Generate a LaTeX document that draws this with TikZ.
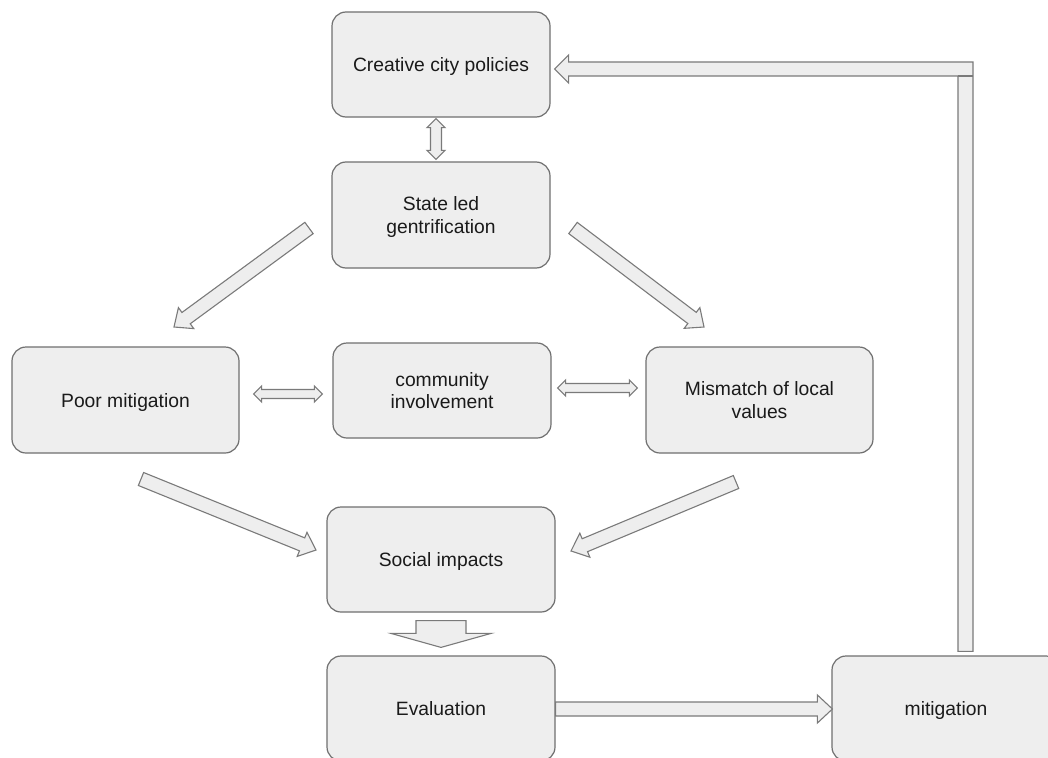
\documentclass[tikz,border=0pt]{standalone}
\usepackage{fontspec}
\setmainfont{Liberation Sans}
\usetikzlibrary{calc}
\definecolor{boxfill}{HTML}{EEEEEE}
\definecolor{boxline}{HTML}{707070}
\definecolor{arrline}{HTML}{7A7A7A}
\definecolor{txt}{HTML}{1A1A1A}
\tikzset{
  box/.style={draw=boxline, fill=boxfill, rounded corners=14pt, line width=1.2pt,
    minimum width=218pt, minimum height=105pt, align=center, text=txt,
    font=\fontsize{19.3}{22.7}\selectfont, inner sep=0pt,
    text height=14pt, text depth=0pt},
  twoline/.style={text height=36.7pt, text depth=0pt},
  blockarr/.style={draw=arrline, fill=boxfill, line width=1.1pt, line join=miter}
}
\newcommand\myarrow[5]{%
\draw[blockarr] let \p1=(#1), \p2=(#2), \n1={atan2(\y2-\y1,\x2-\x1)}, \n2={veclen(\x2-\x1,\y2-\y1)} in
 ($(\p1)+(\n1+90:#3)$) -- ($(\p1)+(\n1:\n2-#5)+(\n1+90:#3)$) -- ($(\p1)+(\n1:\n2-#5)+(\n1+90:#4)$)
 -- (\p2) -- ($(\p1)+(\n1:\n2-#5)+(\n1-90:#4)$) -- ($(\p1)+(\n1:\n2-#5)+(\n1-90:#3)$)
 -- ($(\p1)+(\n1-90:#3)$) -- cycle;}
\newcommand\mydarrow[5]{%
\draw[blockarr] let \p1=(#1), \p2=(#2), \n1={atan2(\y2-\y1,\x2-\x1)}, \n2={veclen(\x2-\x1,\y2-\y1)} in
 (\p1) -- ($(\p1)+(\n1:#5)+(\n1+90:#4)$) -- ($(\p1)+(\n1:#5)+(\n1+90:#3)$)
 -- ($(\p1)+(\n1:\n2-#5)+(\n1+90:#3)$) -- ($(\p1)+(\n1:\n2-#5)+(\n1+90:#4)$)
 -- (\p2) -- ($(\p1)+(\n1:\n2-#5)+(\n1-90:#4)$) -- ($(\p1)+(\n1:\n2-#5)+(\n1-90:#3)$)
 -- ($(\p1)+(\n1:#5)+(\n1-90:#3)$) -- ($(\p1)+(\n1:#5)+(\n1-90:#4)$) -- cycle;}
\begin{document}
\begin{tikzpicture}[x=1pt,y=-1pt]
\useasboundingbox[fill=white] (0,0) rectangle (1048,757);
% boxes
\node[box] (creative) at (441,64.5) {Creative city policies};
\node[box, twoline, minimum height=106pt] (state) at (441,215) {State led\\gentrification};
\node[box, minimum width=227pt, minimum height=106pt] (poor) at (125.5,400) {Poor mitigation};
\node[box, twoline, minimum height=95pt] (comm) at (442,390.5) {community\\involvement};
\node[box, twoline, minimum width=227pt, minimum height=106pt] (mis) at (759.5,400) {Mismatch of local\\values};
\node[box, minimum width=228pt] (social) at (441,559.5) {Social impacts};
\node[box, minimum width=228pt] (eval) at (441,708.5) {Evaluation};
\node[box, minimum width=228pt] (mitig) at (946,708.5) {mitigation};
% connector end points
\coordinate (v1) at ($(creative.south)+(-5,1)$);
\coordinate (v2) at ($(state.north)+(-5,-2)$);
\coordinate (dl1) at (309,228);
\coordinate (dl2) at (174,327);
\coordinate (dr1) at (573,228);
\coordinate (dr2) at (704,327);
\coordinate (h1a) at ($(poor.east)+(14,-6)$);
\coordinate (h1b) at ($(comm.west)+(-10,3.5)$);
\coordinate (h2a) at ($(comm.east)+(6,-2.5)$);
\coordinate (h2b) at ($(mis.west)+(-8,-12)$);
\coordinate (pl1) at (141,479);
\coordinate (pl2) at (316,550);
\coordinate (pr1) at (736,482);
\coordinate (pr2) at (571,551);
\coordinate (sd1) at ($(social.south)+(0,8)$);
\coordinate (sd2) at ($(eval.north)+(0,-8)$);
\coordinate (em1) at ($(eval.east)+(0,0.5)$);
\coordinate (em2) at ($(mitig.west)+(1,0.5)$);
% arrows
\mydarrow{v1}{v2}{5.5pt}{9pt}{9pt}
\myarrow{dl1}{dl2}{7pt}{13pt}{15pt}
\myarrow{dr1}{dr2}{7pt}{13pt}{15pt}
\mydarrow{h1a}{h1b}{4.5pt}{8pt}{8pt}
\mydarrow{h2a}{h2b}{4.5pt}{8pt}{8pt}
\myarrow{pl1}{pl2}{7pt}{13pt}{15pt}
\myarrow{pr1}{pr2}{7pt}{13pt}{15pt}
\myarrow{sd1}{sd2}{25pt}{50pt}{14pt}
\myarrow{em1}{em2}{7pt}{14pt}{15pt}
% feedback elbow arrow
\coordinate (fb0) at ($(mitig.north)+(19.5,-4)$);
\coordinate (fbt) at ($(creative.east)+(4,4.5)$);
\draw[blockarr] ($(fb0)+(7.5,0)$) |- ($(fbt)+(14,-7)$) -- ($(fbt)+(14,-14)$) -- (fbt)
  -- ($(fbt)+(14,14)$) -- ($(fbt)+(14,7)$) -| ($(fb0)+(-7.5,0)$) -- cycle;
\draw[draw=arrline, line width=1.1pt] ($(fb0|-fbt)+(-7.5,7)$) -- ($(fb0|-fbt)+(7.5,7)$);
\end{tikzpicture}
\end{document}
